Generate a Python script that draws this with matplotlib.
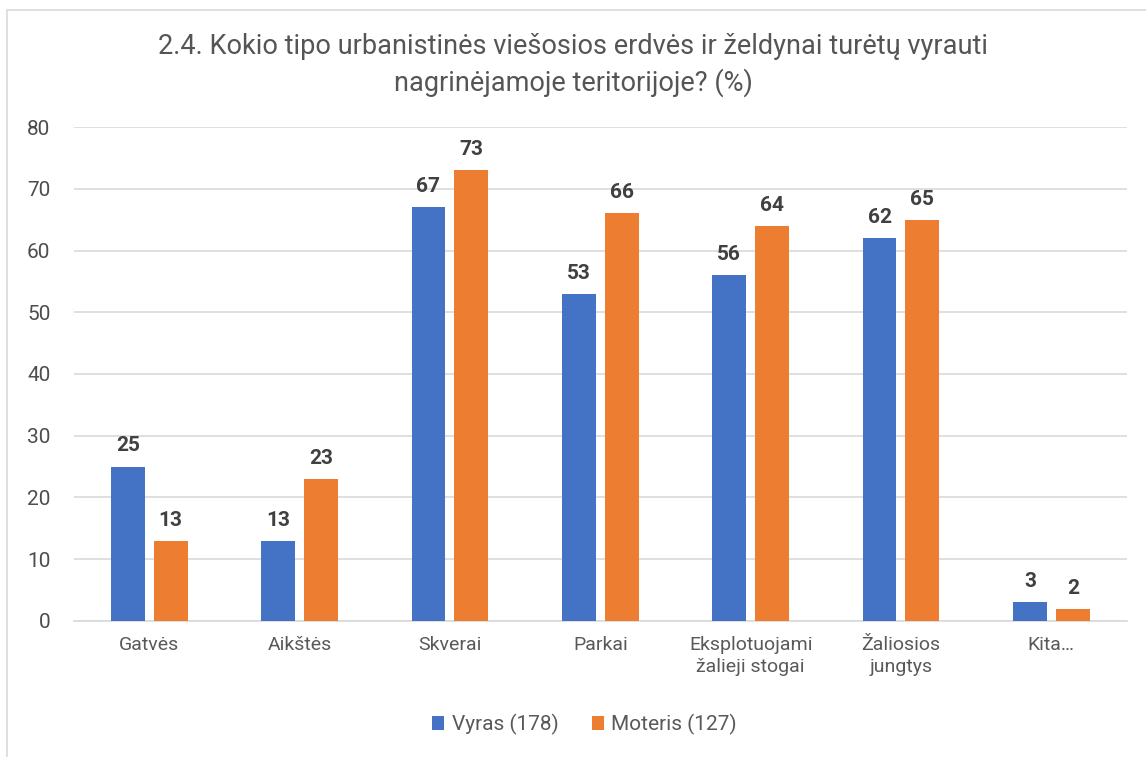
import numpy as np
import matplotlib.pyplot as plt
from matplotlib.patches import Rectangle

plt.rcParams['font.family'] = ['Roboto', 'DejaVu Sans']

#===================== data ============================================
categories = ['Gatvės', 'Aikštės', 'Skverai', 'Parkai',
              'Eksplotuojami\nžalieji stogai', 'Žaliosios\njungtys', 'Kita…']
vyras = [25, 13, 67, 53, 56, 62, 3]
moteris = [13, 23, 73, 66, 64, 65, 2]
series_names = ['Vyras (178)', 'Moteris (127)']
yticks = [0, 10, 20, 30, 40, 50, 60, 70, 80]

title = ('2.4. Kokio tipo urbanistinės viešosios erdvės ir želdynai turėtų vyrauti\n'
         'nagrinėjamoje teritorijoje? (%)')

blue = '#4472C4'
orange = '#ED7D31'
txt = '#595959'

#===================== plot ============================================
fig = plt.figure(figsize=(11.46, 7.57), dpi=100)
ax = fig.add_axes([0.0646, 0.1797, 0.9184, 0.6525])

# chart frame
fig.patches.append(Rectangle((7/1146, -0.01), 1.2, 1 - 10/757 + 0.01,
                             transform=fig.transFigure, fill=False,
                             edgecolor='#D9D9D9', linewidth=1.2))

x = np.arange(len(categories))
w = 0.225
gap = 0.03
b1 = ax.bar(x - w/2 - gap, vyras, w, color=blue, label=series_names[0], zorder=3)
b2 = ax.bar(x + w/2 + gap, moteris, w, color=orange, label=series_names[1], zorder=3)

for bars in (b1, b2):
    for r in bars:
        ax.annotate(f'{int(r.get_height())}',
                    (r.get_x() + r.get_width()/2, r.get_height()),
                    xytext=(0, 8), textcoords='offset points',
                    ha='center', va='bottom', fontsize=15, fontweight='bold',
                    color='#404040')

ax.set_xlim(-0.5, len(categories) - 0.5)
ax.set_ylim(0, 80)
ax.set_yticks(yticks)
ax.set_xticks(x)
ax.set_xticklabels(categories, fontsize=14, color=txt, linespacing=1.25)
ax.tick_params(axis='y', labelsize=15, labelcolor='#4d4d4d', length=0, pad=17)
ax.tick_params(axis='x', length=0, pad=11)

ax.grid(axis='y', color='#D9D9D9', linewidth=1.2, zorder=0)
for s in ['top', 'right', 'left']:
    ax.spines[s].set_visible(False)
ax.spines['bottom'].set_color('#D9D9D9')
ax.spines['bottom'].set_linewidth(1.2)

fig.text(0.5, 0.914, title, ha='center', va='center', fontsize=19.5,
         color='#555555', linespacing=1.4)

leg = fig.legend(handles=[b1, b2], loc='center', bbox_to_anchor=(0.51, 0.043),
                 ncol=2, frameon=False, fontsize=15, handlelength=0.6,
                 handleheight=0.6, columnspacing=1.6, handletextpad=0.35)
for t in leg.get_texts():
    t.set_color(txt)

plt.savefig('out.png', dpi=100)
